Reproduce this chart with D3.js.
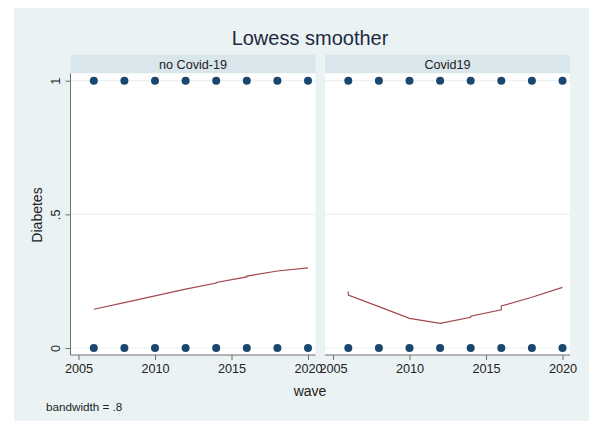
<!DOCTYPE html>
<html>
<head>
<meta charset="utf-8">
<script src="https://cdn.jsdelivr.net/npm/d3@7"></script>
<style>
  body { margin: 0; background: #fff; }
  text { font-family: "Liberation Sans", Arial, sans-serif; }
</style>
</head>
<body>
<script>
// data
var waves = [2006, 2008, 2010, 2012, 2014, 2016, 2018, 2020];
var diabetesObs = [0, 1];
var panelNames = ["no Covid-19", "Covid19"];
var lowessYearsNo = [2006, 2008, 2010, 2012, 2014, 2014, 2016, 2016, 2018, 2020];
var lowessNo = [0.145, 0.170, 0.195, 0.220, 0.243, 0.245, 0.266, 0.269, 0.288, 0.300];
var lowessYearsCovid = [2006, 2006, 2008, 2010, 2012, 2014, 2014, 2016, 2016, 2018, 2020];
var lowessCovid = [0.211, 0.198, 0.155, 0.111, 0.092, 0.115, 0.119, 0.143, 0.157, 0.190, 0.227];
var xTicks = [2005, 2010, 2015, 2020];
var yTicks = [0, 0.5, 1];
var yTickLabels = ["0", ".5", "1"];

var w = 589;
var h = 421;

var svg = d3.select("body")
  .append("svg")
  .attr("width", w)
  .attr("height", h);

// graph region background
svg.append("rect")
  .attr("x", 14).attr("y", 8)
  .attr("width", w - 14).attr("height", h - 8)
  .attr("fill", "#eaf2f3");

var panelLeft = [70.5, 325];
var panelW = 245;
var plotTop = 73.5;
var plotBottom = 355;

var x = d3.scaleLinear().domain([2005, 2020]).range([8, 237.5]);
var y = d3.scaleLinear().domain([0, 1]).range([348, 80.7]);

var lines = [
  lowessYearsNo.map(function(d, i) { return [d, lowessNo[i]]; }),
  lowessYearsCovid.map(function(d, i) { return [d, lowessCovid[i]]; })
];

var line = d3.line()
  .x(function(d) { return x(d[0]); })
  .y(function(d) { return y(d[1]); });

panelNames.forEach(function(name, p) {
  var g = svg.append("g")
    .attr("transform", "translate(" + panelLeft[p] + ",0)");

  // strip
  g.append("rect")
    .attr("x", 0).attr("y", 55)
    .attr("width", panelW).attr("height", 18)
    .attr("fill", "#d9e6eb");
  g.append("text")
    .attr("x", panelW / 2).attr("y", 68.5)
    .attr("text-anchor", "middle")
    .attr("font-size", 12.6)
    .attr("fill", "#222")
    .text(name);

  // plot region
  g.append("rect")
    .attr("x", 0).attr("y", plotTop)
    .attr("width", panelW).attr("height", plotBottom - plotTop)
    .attr("fill", "#fff");

  // gridlines
  g.selectAll("line.grid")
    .data(yTicks)
    .enter()
    .append("line")
    .attr("class", "grid")
    .attr("x1", 0).attr("x2", panelW)
    .attr("y1", function(d) { return y(d); })
    .attr("y2", function(d) { return y(d); })
    .attr("stroke", "#eaf2f3")
    .attr("stroke-width", 1.2);

  // observed points
  var pts = [];
  diabetesObs.forEach(function(v) {
    waves.forEach(function(yr) { pts.push([yr, v]); });
  });
  g.selectAll("circle")
    .data(pts)
    .enter()
    .append("circle")
    .attr("cx", function(d) { return x(d[0]); })
    .attr("cy", function(d) { return y(d[1]); })
    .attr("r", 4)
    .attr("fill", "#1a476f");

  // lowess line
  g.append("path")
    .datum(lines[p])
    .attr("d", line)
    .attr("fill", "none")
    .attr("stroke", "#a5484e")
    .attr("stroke-width", 1.2);

  // x axis
  var xAxis = g.append("g")
    .attr("transform", "translate(0," + plotBottom + ")")
    .call(d3.axisBottom(x)
      .tickValues(xTicks)
      .tickFormat(d3.format("d"))
      .tickSize(5)
      .tickSizeOuter(0)
      .tickPadding(4));
  xAxis.select(".domain").remove();
  xAxis.selectAll(".tick line").attr("stroke", "#6e6e6e");
  xAxis.selectAll(".tick text")
    .attr("font-size", 12.7)
    .attr("font-family", "Liberation Sans, Arial, sans-serif")
    .attr("fill", "#222");
  g.append("line")
    .attr("x1", 0).attr("x2", panelW)
    .attr("y1", plotBottom).attr("y2", plotBottom)
    .attr("stroke", "#6e6e6e");

  if (p == 0) {
    // y axis on the first panel only
    var yAxis = g.append("g")
      .call(d3.axisLeft(y)
        .tickValues(yTicks)
        .tickFormat(function(d, i) { return yTickLabels[i]; })
        .tickSize(5)
        .tickSizeOuter(0));
    yAxis.select(".domain").remove();
    yAxis.selectAll(".tick line").attr("stroke", "#6e6e6e");
    yAxis.selectAll(".tick text")
      .attr("x", null).attr("dy", null)
      .attr("transform", "translate(-11,0) rotate(-90)")
      .attr("text-anchor", "middle")
      .attr("font-size", 12.7)
      .attr("font-family", "Liberation Sans, Arial, sans-serif")
      .attr("fill", "#222");
    g.append("line")
      .attr("x1", 0).attr("x2", 0)
      .attr("y1", plotTop).attr("y2", plotBottom)
      .attr("stroke", "#6e6e6e");
  }
});

// titles
svg.append("text")
  .attr("x", 310).attr("y", 44.5)
  .attr("text-anchor", "middle")
  .attr("font-size", 20)
  .attr("fill", "#1e2a3e")
  .text("Lowess smoother");

svg.append("text")
  .attr("transform", "translate(42,215) rotate(-90)")
  .attr("text-anchor", "middle")
  .attr("font-size", 14)
  .attr("fill", "#222")
  .text("Diabetes");

svg.append("text")
  .attr("x", 310).attr("y", 396)
  .attr("text-anchor", "middle")
  .attr("font-size", 14)
  .attr("fill", "#222")
  .text("wave");

svg.append("text")
  .attr("x", 46).attr("y", 410.5)
  .attr("font-size", 11.7)
  .attr("fill", "#222")
  .text("bandwidth = .8");
</script>
</body>
</html>
